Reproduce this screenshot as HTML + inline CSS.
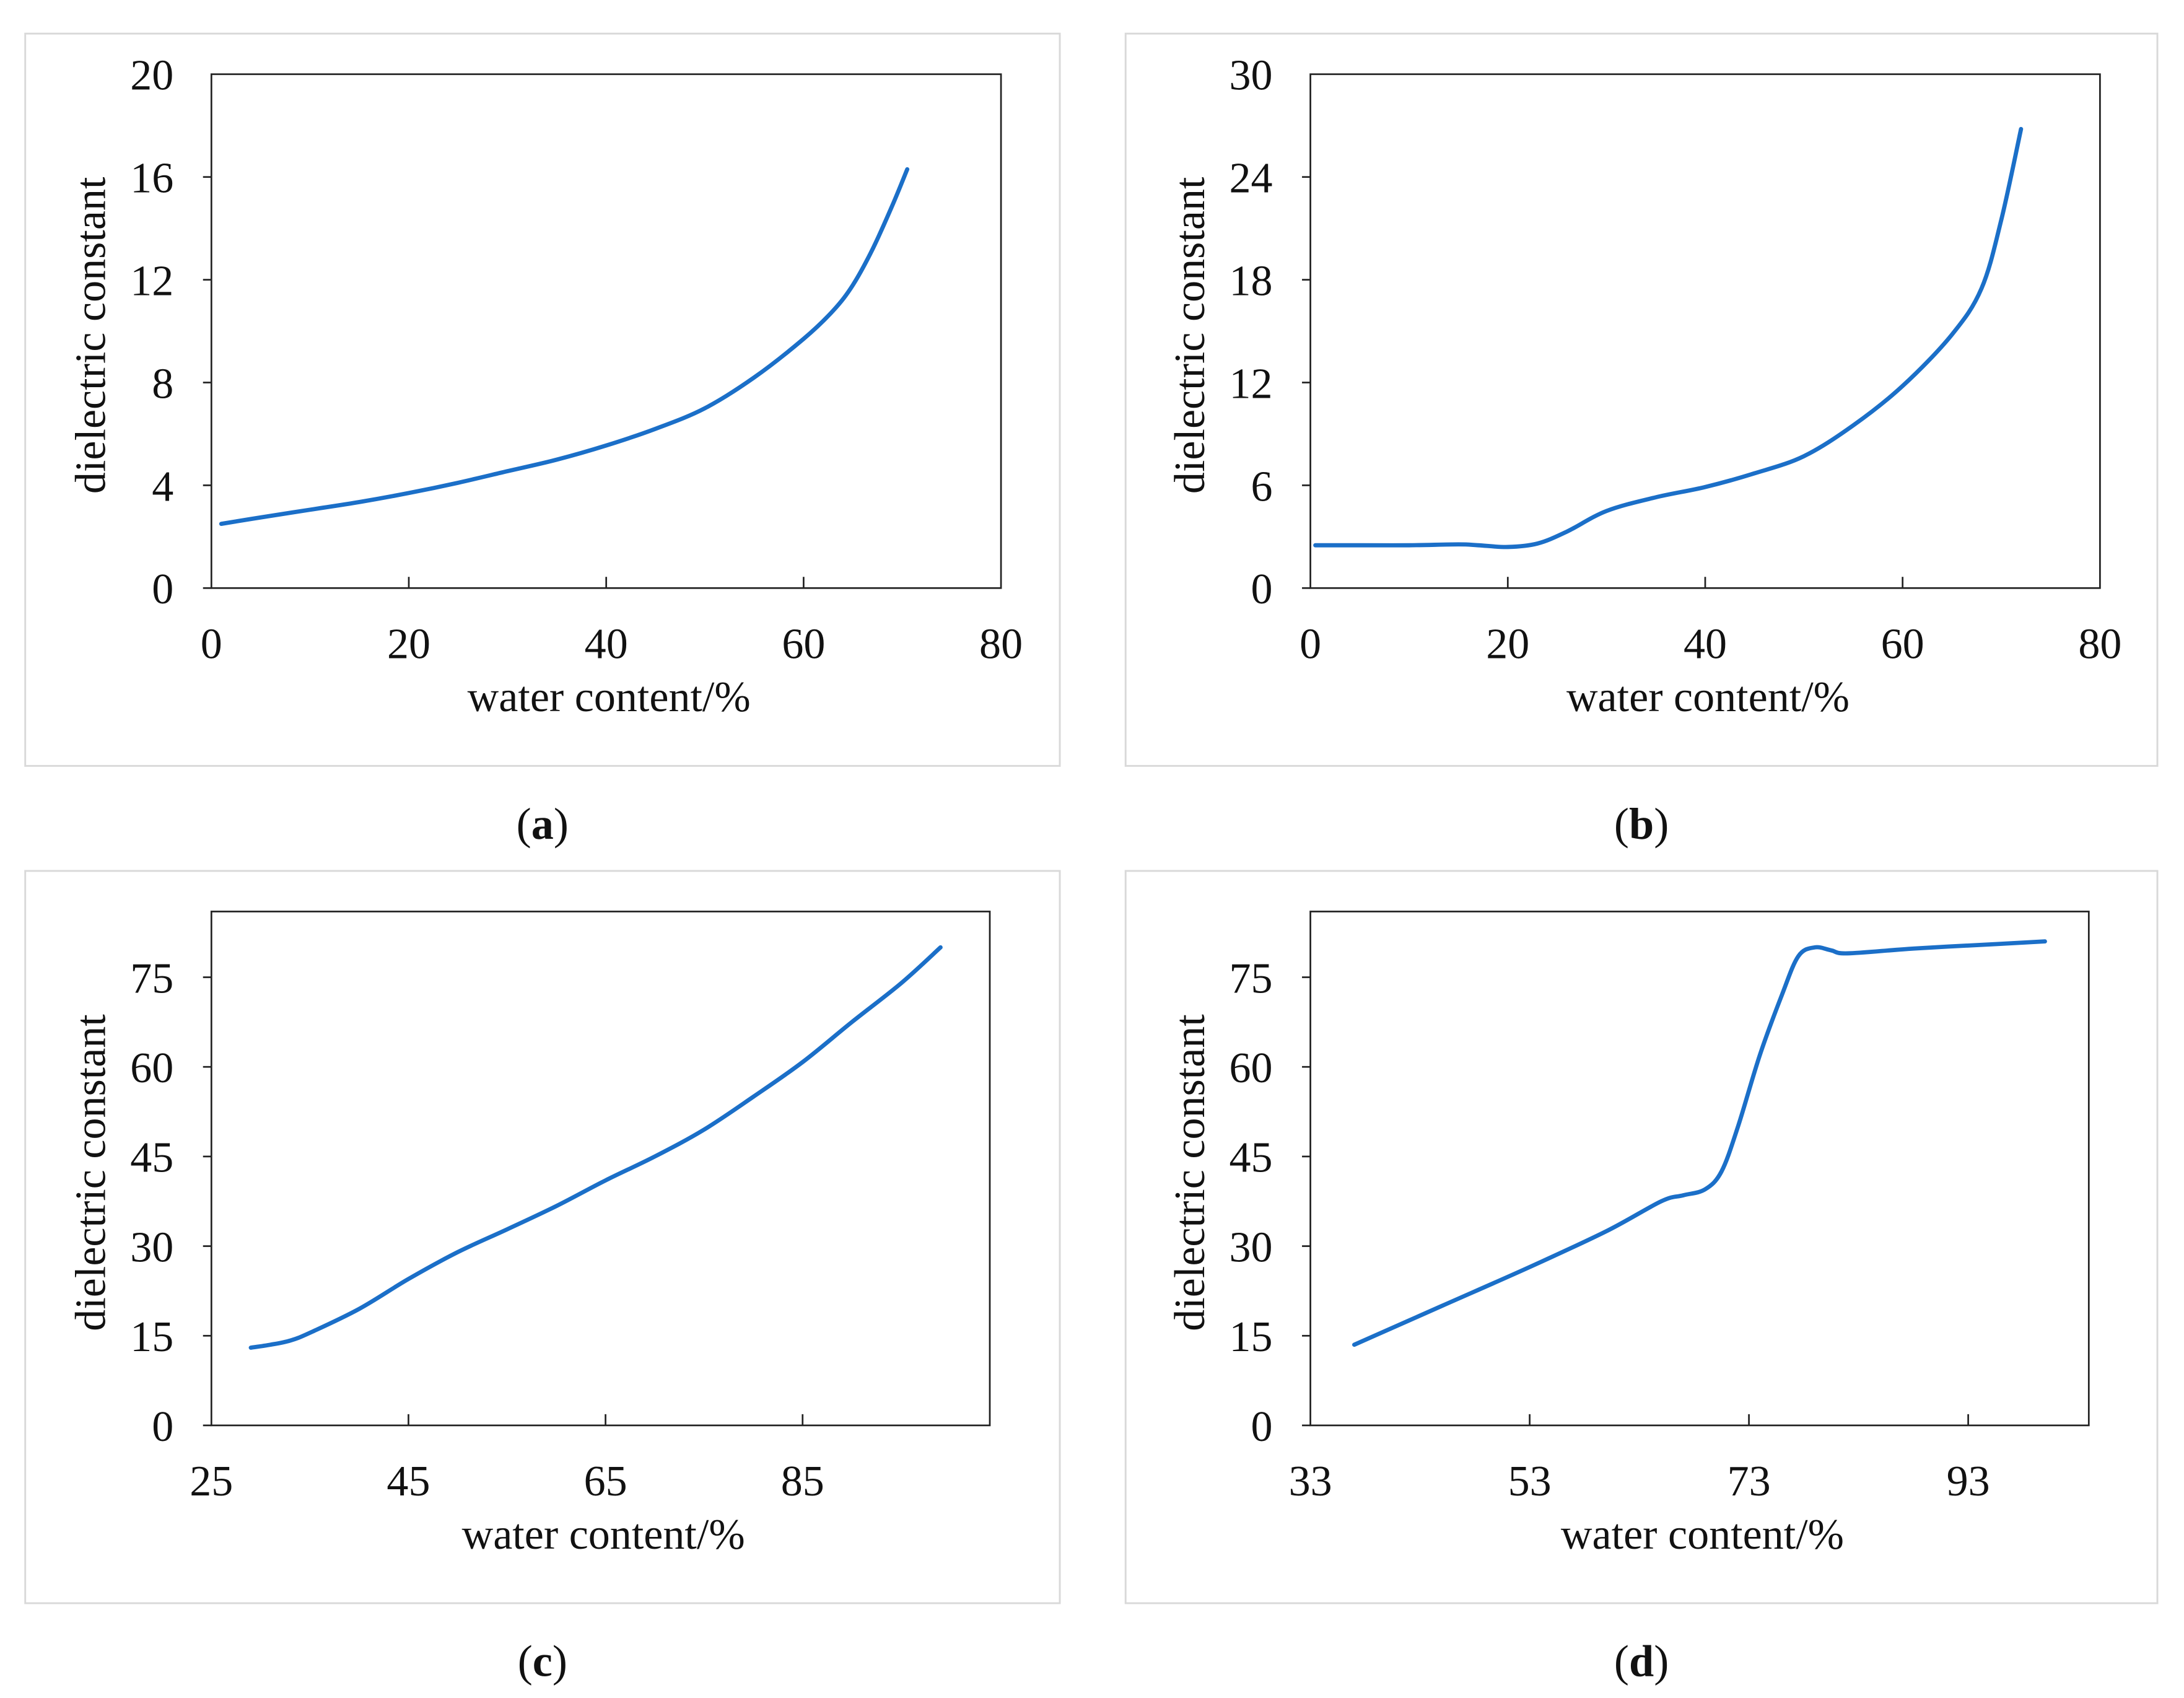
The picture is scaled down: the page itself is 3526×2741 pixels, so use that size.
<!DOCTYPE html>
<html><head><meta charset="utf-8"><style>
html,body{margin:0;padding:0;background:#fff;}
svg{display:block;}
text{font-family:"Liberation Serif",serif;fill:#111;}
</style></head><body>
<svg id="fig" width="3526" height="2741" viewBox="0 0 1560 1212.7" xmlns="http://www.w3.org/2000/svg"></svg>
<script>
// ---- data ----
const aX=[1,5,10,15,20,25,30,35,40,45,50,55,60,63,65,67,69,70.5];
const aY=[2.5,2.75,3.05,3.35,3.7,4.1,4.55,5.0,5.55,6.2,7.0,8.2,9.7,10.8,11.8,13.2,14.9,16.3];
const bX=[0.5,5,10,15,17,20,23,26,30,35,40,45,50,55,60,65,68,70,72];
const bY=[2.5,2.5,2.5,2.55,2.5,2.4,2.6,3.3,4.5,5.3,5.9,6.7,7.7,9.5,11.8,14.8,17.5,21.5,26.8];
const cX=[29,31,33,35,40,45,50,55,60,65,70,75,80,85,90,95,99];
const cY=[13,13.5,14.2,15.5,19.5,24.5,29,32.8,36.7,41,45,49.5,55,60.8,67.5,74,80];
const dX=[37,45,53,60,65,67,69,70.5,72,74,76,77.5,79,80.5,82,88,95,100];
const dY=[13.5,20,26.5,32.5,37.5,38.5,39.5,42.5,50,62,72,78.5,80,79.5,79,79.8,80.5,81];
const abXTicks=[0,20,40,60,80];
const aYTicks=[0,4,8,12,16,20];
const bYTicks=[0,6,12,18,24,30];
const cXTicks=[25,45,65,85];
const dXTicks=[33,53,73,93];
const cdYTicks=[0,15,30,45,60,75];

const NS="http://www.w3.org/2000/svg";
const svg=document.getElementById('fig');
function mk(tag,attrs,parent){const e=document.createElementNS(NS,tag);for(const k in attrs)e.setAttribute(k,attrs[k]);(parent||svg).appendChild(e);return e;}

function panel(id,box,plot,xmin,xmax,ymin,ymax,xt,yt,xs,ys,cap,topTick){
  const g=mk('g',{});
  
  
  const fr=mk('rect',{x:box[0],y:box[1],width:box[2]-box[0],height:box[3]-box[1],fill:'none',stroke:'#d9d9d9','stroke-width':1.3},g);
  
  
  const [L,T,R,B]=plot;
  const sx=v=>L+(v-xmin)/(xmax-xmin)*(R-L);
  const sy=v=>B-(v-ymin)/(ymax-ymin)*(B-T);
  const pa=mk('rect',{x:L,y:T,width:R-L,height:B-T,fill:'none',stroke:'#222','stroke-width':1.2},g);
  
  
  xt.forEach(v=>{
    const x=sx(v);
    if(v!==xmin&&v!==xmax){mk('line',{x1:x,y1:B,x2:x,y2:B-8,stroke:'#222','stroke-width':1.2},g);}
    const t=mk('text',{x:x,y:B+50,'text-anchor':'middle','font-size':31},g);
    t.textContent=v;
    
    
  });
  yt.forEach(v=>{
    const y=sy(v);
    if(v!==ymax||!topTick){mk('line',{x1:L,y1:y,x2:L-6,y2:y,stroke:'#222','stroke-width':1.2},g);}
    const t=mk('text',{x:L-27,y:y+11,'text-anchor':'end','font-size':31},g);
    t.textContent=v;
    
    
  });
  const p=xs.map((v,i)=>[sx(v),sy(ys[i])]);
  let d='M'+p[0][0]+','+p[0][1];
  for(let i=0;i<p.length-1;i++){
    const p0=p[i-1]||p[i],p1=p[i],p2=p[i+1],p3=p[i+2]||p2;
    const c1=[p1[0]+(p2[0]-p0[0])/6,p1[1]+(p2[1]-p0[1])/6];
    const c2=[p2[0]-(p3[0]-p1[0])/6,p2[1]-(p3[1]-p1[1])/6];
    d+=' C'+c1[0]+','+c1[1]+' '+c2[0]+','+c2[1]+' '+p2[0]+','+p2[1];
  }
  const ln=mk('path',{d:d,fill:'none',stroke:'#1b6fc8','stroke-width':3,'stroke-linecap':'round','stroke-linejoin':'round'},g);
  
  
  const cx=(L+R)/2;
  const xtl=mk('text',{x:cx+2,y:B+88,'text-anchor':'middle','font-size':31},g);
  xtl.textContent='water content/%';
  
  
  const cy=(T+B)/2;
  const ytl=mk('text',{x:0,y:0,'text-anchor':'middle','font-size':31,transform:'translate('+(L-76)+','+(cy+3)+') rotate(-90)'},g);
  ytl.textContent='dielectric constant';
  
  
  const cp=mk('text',{x:(box[0]+box[2])/2,y:box[3]+52,'text-anchor':'middle','font-size':32},g);
  cp.innerHTML='(<tspan font-weight="bold">'+cap+'</tspan>)';
  
  
}
panel('a',[18,24,757,547],[151,53,715,420],0,80,0,20,abXTicks,aYTicks,aX,aY,'a',true);
panel('b',[804,24,1541,547],[936,53,1500,420],0,80,0,30,abXTicks,bYTicks,bX,bY,'b',true);
panel('c',[18,622,757,1145],[151,651,707,1018],25,104,0,86,cXTicks,cdYTicks,cX,cY,'c',false);
panel('d',[804,622,1541,1145],[936,651,1492,1018],33,104,0,86,dXTicks,cdYTicks,dX,dY,'d',false);
</script>
</body></html>
